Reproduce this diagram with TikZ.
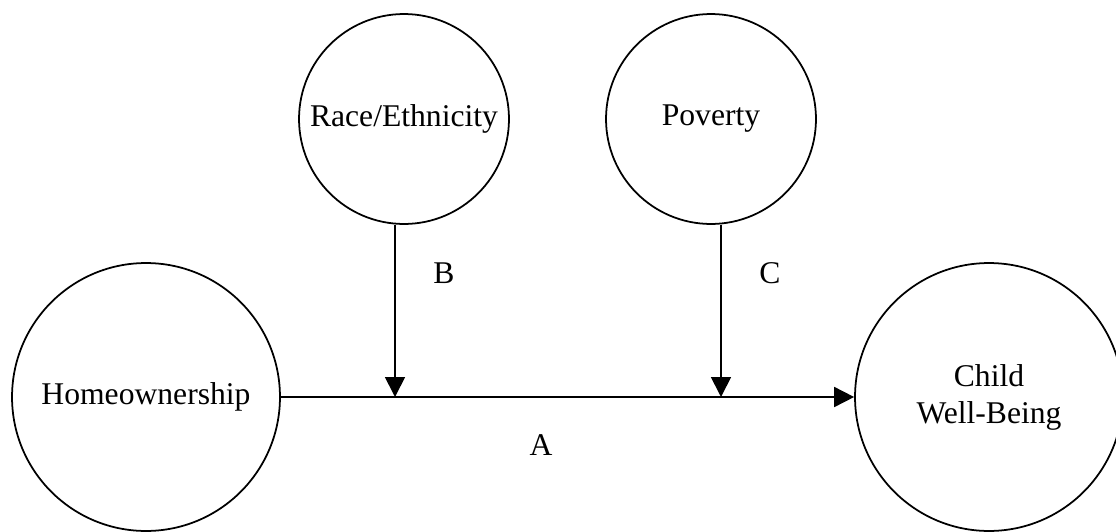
\documentclass[tikz,border=0pt]{standalone}
\usepackage{fontspec}
\setmainfont{Liberation Serif}
\usetikzlibrary{arrows.meta,calc,positioning}

\begin{document}
\begin{tikzpicture}[
  x=0.02cm,y=-0.02cm,
  flow/.style={-{Triangle[length=0.4cm,width=0.4cm]},draw=black,line width=1pt},
  bigvar/.style={circle,draw=black,line width=1pt,minimum size=5.36cm,
    inner sep=0pt,align=center,font=\fontsize{18}{21}\selectfont},
  smallvar/.style={bigvar,minimum size=4.2cm},
  pathlabel/.style={font=\fontsize{18}{21}\selectfont,inner sep=0pt}
]
\useasboundingbox (0,0) rectangle (1116,531);

\node[bigvar] (home) at (146,397) {Homeownership};
\node[bigvar] (child) at (989,397) {Child\\Well-Being};
\node[smallvar] (race) at (404,119) {Race/Ethnicity};
\node[smallvar] (poverty) at (711,119) {Poverty};

\coordinate (bjoin) at (395,397);
\coordinate (cjoin) at (721,397);

\draw[flow] (home) -- (child);
\draw[flow] (race.south -| bjoin) -- (bjoin);
\draw[flow] (poverty.south -| cjoin) -- (cjoin);

\node[pathlabel] (labA) at (541,445) {A};
\node[pathlabel] (labB) at (444,273) {B};
\node[pathlabel] (labC) at (770,273) {C};

\end{tikzpicture}
\end{document}
